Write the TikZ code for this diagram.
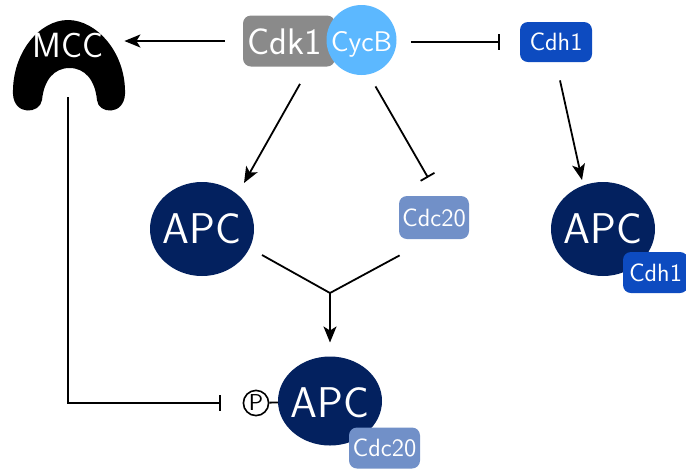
\documentclass[tikz,border=0pt]{standalone}
\usetikzlibrary{arrows.meta,shapes.geometric,calc}
\definecolor{apcblue}{HTML}{03215F}
\definecolor{cdhblue}{HTML}{0D4BC0}
\definecolor{cdcblue}{HTML}{7190C8}
\definecolor{cdkgray}{HTML}{8A8A8A}
\definecolor{cycblue}{HTML}{5CB8FF}
\tikzset{
  link/.style={line width=0.9pt, draw=black},
  act/.style={link, -{Stealth[length=8pt,width=6.5pt,inset=2pt]}},
  inh/.style={link, -{Bar[width=8pt,line width=0.9pt]}},
  complex/.style={ellipse, fill=apcblue, inner sep=0pt, outer sep=0pt,
    minimum width=52pt, minimum height=47pt},
  bigtext/.style={text=white, inner sep=0pt, text depth=0pt,
    font=\sffamily\fontsize{21.5}{24}\selectfont},
  tagbox/.style={rounded corners=4pt, text=white, inner sep=0pt,
    font=\sffamily\fontsize{12.5}{14}\selectfont},
}
\begin{document}
\begin{tikzpicture}[x=0.5pt,y=-0.5pt]
\useasboundingbox (0,0) rectangle (686,468);

% MCC body
\fill[black] (42,100) .. controls (40,114) and (14,116) .. (13,94)
  .. controls (12,52) and (40,20) .. (68,20)
  .. controls (96,20) and (126,52) .. (125,94)
  .. controls (124,116) and (98,114) .. (97,100)
  .. controls (95,80) and (85,68) .. (69.5,68)
  .. controls (54,68) and (44,80) .. (42,100) -- cycle;
\node[text=white, inner sep=0pt, minimum width=56pt,
  font=\sffamily\fontsize{17.5}{20}\selectfont] (mcc) at (68,45) {MCC};

% Cdk1/CycB complex
\node[tagbox, fill=cdkgray, minimum width=46pt, minimum height=25.5pt]
  (cdkbox) at (289,41) {};
\node[text=white, inner sep=0pt, font=\sffamily\fontsize{18.5}{20}\selectfont]
  (cdk) at (284.5,42) {Cdk1};
\node[circle, fill=cycblue, inner sep=0pt, minimum size=35pt]
  (cycb) at (361.5,40) {};
\node[text=white, inner sep=0pt, text depth=0pt,
  font=\sffamily\fontsize{14.2}{16}\selectfont] (cycbtext) at (361.5,41) {CycB};

% Cdh1
\node[tagbox, fill=cdhblue, minimum width=36pt, minimum height=20pt]
  (cdh1) at (556,42) {Cdh1};

% APC forms
\node[complex] (apcL) at (202,229) {};
\node[bigtext] (apcLtext) at (apcL) {APC};
\node[tagbox, fill=cdcblue, minimum width=35pt, minimum height=21.5pt]
  (cdc20) at (434,217.5) {Cdc20};

\node[complex] (apcR) at (603,229) {};
\node[bigtext] (apcRtext) at (apcR) {APC};
\node[tagbox, fill=cdhblue, minimum width=32.5pt, minimum height=20.5pt]
  (cdh1b) at (655.5,272.5) {Cdh1};

\node[complex, minimum height=44.5pt] (apcB) at (330,401) {};
\node[bigtext] (apcBtext) at (330,403) {APC};
\node[tagbox, fill=cdcblue, minimum width=35.5pt, minimum height=20.5pt]
  (cdc20b) at (384.5,448) {Cdc20};
\node[circle, draw=black, line width=0.8pt, fill=white, inner sep=0pt,
  minimum size=12.6pt] (phos) at (256,403) {};
\node[inner sep=0pt, text depth=0pt, font=\sffamily\fontsize{11.5}{13}\selectfont]
  (phostext) at (phos) {P};
\draw[link] (phos) -- (apcB);

% interactions
\draw[act] ($(cdkbox.west)+(-18,0)$) -- (mcc.east |- cdkbox.west);
\draw[inh] ($(cycb.east)+(14,2)$) -- ($(cdh1.west)+(-20,0)$);
\draw[act] ($(cdh1.south)+(4,18)$) -- ($(apcR.north)+(-21,-2)$);
\draw[act] ($(cdkbox.south)+(11,17)$) -- ($(apcL.north)+(42,1)$);
\draw[inh] ($(cycb.south)+(14,11)$) -- ($(cdc20.north)+(-6,-18)$);

\coordinate (join) at (330,293);
\draw[link] ($(apcL.east)+(8,26)$) -- (join);
\draw[link] ($(cdc20.south west)+(1,16)$) -- (join);
\draw[act] (join) -- ($(apcB.north)+(0,-14)$);

\draw[inh] ($(mcc.center)+(0,52)$) |- ($(phos.west)+(-22,0)$);
\end{tikzpicture}
\end{document}
